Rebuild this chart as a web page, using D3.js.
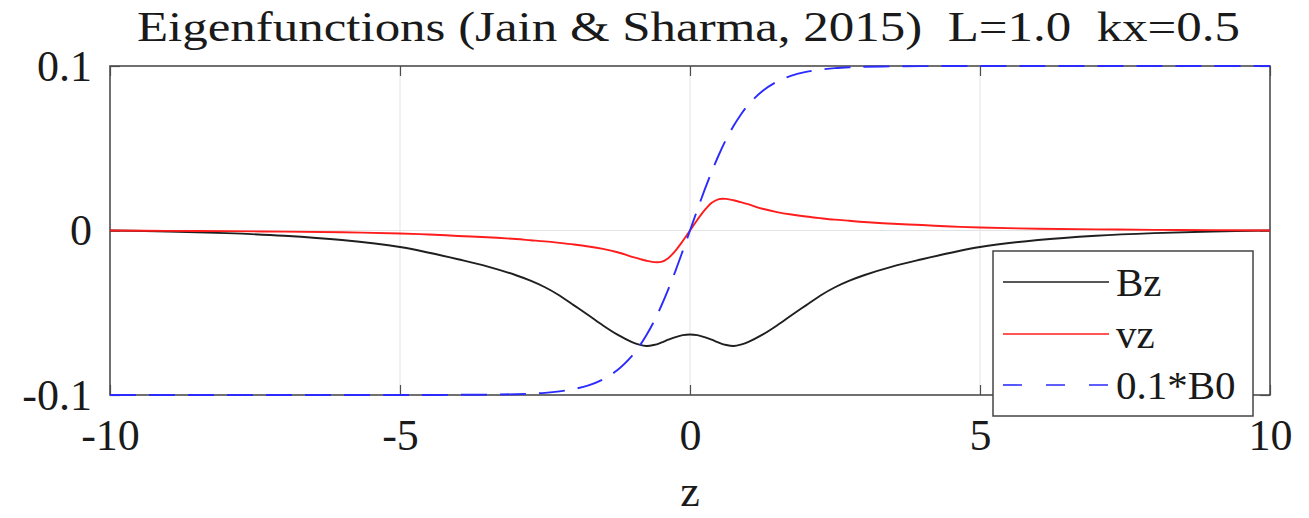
<!DOCTYPE html>
<html>
<head>
<meta charset="utf-8">
<script src="https://cdn.jsdelivr.net/npm/d3@7"></script>
<style>
  html, body { margin: 0; padding: 0; background: #fff; }
  svg { display: block; }
  text { font-family: "Times New Roman", "Liberation Serif", Tinos, "Nimbus Roman", Times, serif; fill: #1a1a1a; }
</style>
</head>
<body>
<svg id="chart" width="1309" height="518"></svg>
<script>
// Sample positions along z (denser near the current sheet)
const zValues = [-10, -9, -8, -7, -6, -5, -4.5, -4, -3.5, -3, -2.75, -2.5, -2.25, -2, -1.75, -1.5, -1.25, -1,
  -0.875, -0.75, -0.625, -0.5, -0.375, -0.25, -0.125, 0, 0.125, 0.25, 0.375, 0.5, 0.625, 0.75, 0.875,
  1, 1.25, 1.5, 1.75, 2, 2.25, 2.5, 2.75, 3, 3.5, 4, 4.5, 5, 6, 7, 8, 9, 10];

// Bz eigenfunction
const bzValues = [0, -0.0006, -0.0016, -0.0032, -0.0058, -0.0100, -0.0135, -0.0175, -0.0218, -0.0272, -0.0305, -0.0345, -0.0395, -0.0455, -0.0515, -0.0577, -0.0633, -0.0678,
  -0.0694, -0.0702, -0.0696, -0.0682, -0.0664, -0.0648, -0.0636, -0.0632, -0.0636, -0.0648, -0.0664, -0.0682, -0.0696, -0.0702, -0.0694,
  -0.0678, -0.0633, -0.0577, -0.0515, -0.0455, -0.0395, -0.0345, -0.0305, -0.0272, -0.0218, -0.0175, -0.0135, -0.0100, -0.0058, -0.0032, -0.0016, -0.0006, 0];

// vz eigenfunction
const vzValues = [0, -0.0002, -0.0004, -0.0007, -0.0011, -0.0018, -0.0024, -0.0033, -0.0041, -0.0052, -0.0059, -0.0066, -0.0075, -0.0085, -0.0097, -0.0112, -0.0132, -0.0160,
  -0.0172, -0.0184, -0.0192, -0.0191, -0.0168, -0.0122, -0.0064, 0, 0.0064, 0.0122, 0.0168, 0.0191, 0.0192, 0.0184, 0.0172,
  0.0160, 0.0132, 0.0112, 0.0097, 0.0085, 0.0075, 0.0066, 0.0059, 0.0052, 0.0041, 0.0033, 0.0024, 0.0018, 0.0011, 0.0007, 0.0004, 0.0002, 0];

// Equilibrium field, scaled by 0.1
const b0Values = [-0.1, -0.1, -0.1, -0.1, -0.1, -0.1, -0.1, -0.0999, -0.0998, -0.0995, -0.0992, -0.0987, -0.0978, -0.0964, -0.0941, -0.0905, -0.0848, -0.0762,
  -0.0704, -0.0635, -0.0555, -0.0462, -0.0358, -0.0245, -0.0124, 0, 0.0124, 0.0245, 0.0358, 0.0462, 0.0555, 0.0635, 0.0704,
  0.0762, 0.0848, 0.0905, 0.0941, 0.0964, 0.0978, 0.0987, 0.0992, 0.0995, 0.0998, 0.0999, 0.1, 0.1, 0.1, 0.1, 0.1, 0.1, 0.1];

const xTicks = [-10, -5, 0, 5, 10];
const xTickLabels = ["-10", "-5", "0", "5", "10"];
const yTicks = [-0.1, 0, 0.1];
const yTickLabels = ["-0.1", "0", "0.1"];

const seriesNames = ["Bz", "vz", "0.1*B0"];
const seriesColors = ["#1f1f1f", "#ff1c1c", "#2b2bff"];

const titleText = "Eigenfunctions (Jain & Sharma, 2015)  L=1.0  kx=0.5";
const xLabel = "z";

const serif = '"Times New Roman", "Liberation Serif", Tinos, "Nimbus Roman", Times, serif';
const svg = d3.select("#chart");
const plotLeft = 110, plotRight = 1270, plotTop = 66, plotBottom = 395;

const x = d3.scaleLinear().domain([-10, 10]).range([plotLeft, plotRight]);
const y = d3.scaleLinear().domain([-0.1, 0.1]).range([plotBottom, plotTop]);

// Grid
const grid = svg.append("g").attr("stroke", "#e3e3e3").attr("stroke-width", 1);
grid.selectAll(".gx").data(xTicks.slice(1, -1)).join("line")
  .attr("x1", d => x(d)).attr("x2", d => x(d)).attr("y1", plotTop).attr("y2", plotBottom);
grid.selectAll(".gy").data(yTicks.slice(1, -1)).join("line")
  .attr("x1", plotLeft).attr("x2", plotRight).attr("y1", d => y(d)).attr("y2", d => y(d));

// Axes with inward ticks
const axisColor = "#4d4d4d";
function styleAxis(g) {
  g.attr("font-family", serif);
  g.select(".domain").remove();
  g.selectAll(".tick line").attr("stroke", axisColor).attr("stroke-width", 1.2);
  g.selectAll(".tick text").attr("font-family", serif).attr("font-size", 44).attr("fill", "#1a1a1a");
}
svg.append("g").attr("transform", `translate(0,${plotBottom})`)
  .call(d3.axisBottom(x).tickValues(xTicks).tickFormat((d, i) => xTickLabels[i]).tickSizeInner(-10).tickSizeOuter(0).tickPadding(24))
  .call(styleAxis);
svg.append("g").attr("transform", `translate(0,${plotTop})`)
  .call(d3.axisTop(x).tickValues(xTicks).tickFormat("").tickSizeInner(-10).tickSizeOuter(0))
  .call(styleAxis);
svg.append("g").attr("transform", `translate(${plotLeft},0)`)
  .call(d3.axisLeft(y).tickValues(yTicks).tickFormat((d, i) => yTickLabels[i]).tickSizeInner(-10).tickSizeOuter(0).tickPadding(18))
  .call(styleAxis);
svg.append("g").attr("transform", `translate(${plotRight},0)`)
  .call(d3.axisRight(y).tickValues(yTicks).tickFormat("").tickSizeInner(-10).tickSizeOuter(0))
  .call(styleAxis);

// Box
svg.append("rect").attr("x", plotLeft).attr("y", plotTop).attr("width", plotRight - plotLeft).attr("height", plotBottom - plotTop)
  .attr("fill", "none").attr("stroke", axisColor).attr("stroke-width", 1.6);

// Curves
const line = d3.line().curve(d3.curveCatmullRom.alpha(0.5));
const series = [bzValues, vzValues, b0Values];
series.forEach((vals, i) => {
  svg.append("path")
    .attr("d", line(zValues.map((z, k) => [x(z), y(vals[k])])))
    .attr("fill", "none")
    .attr("stroke", seriesColors[i])
    .attr("stroke-width", 1.9)
    .attr("stroke-dasharray", i === 2 ? "26,13" : null);
});

// Title and axis label
svg.append("text").attr("x", 137).attr("y", 41)
  .attr("font-size", 42).attr("textLength", 1103).attr("lengthAdjust", "spacingAndGlyphs")
  .style("white-space", "pre").text(titleText);
svg.append("text").attr("x", x(0)).attr("y", 506).attr("text-anchor", "middle")
  .attr("font-size", 44).text(xLabel);

// Legend
const lg = svg.append("g");
lg.append("rect").attr("x", 993).attr("y", 251).attr("width", 260).attr("height", 165)
  .attr("fill", "#fff").attr("stroke", "#444").attr("stroke-width", 1.5);
const legendY = [282, 334, 385];
seriesNames.forEach((name, i) => {
  lg.append("line").attr("x1", 1003).attr("x2", 1109).attr("y1", legendY[i]).attr("y2", legendY[i])
    .attr("stroke", seriesColors[i]).attr("stroke-width", 1.6)
    .attr("stroke-dasharray", i === 2 ? "19,24" : null);
  lg.append("text").attr("x", 1116).attr("y", legendY[i] + 14)
    .attr("font-size", 41).text(name);
});
</script>
</body>
</html>
